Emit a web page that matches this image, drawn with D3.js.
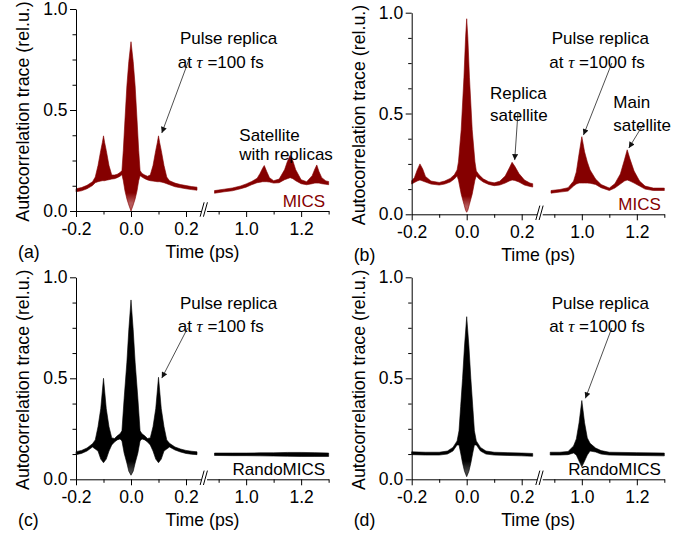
<!DOCTYPE html>
<html>
<head>
<meta charset="utf-8">
<script src="https://cdn.jsdelivr.net/npm/d3@7"></script>
<style>
  body { margin: 0; background: #fff; }
  svg text { font-family: Arial, "Liberation Sans", sans-serif; font-size: 17px; fill: #000; }
  svg .tick text { font-size: 17.5px; }
  .ytitle { font-size: 17.8px !important; }
  .xtitle { font-size: 17.7px !important; }
  .tau { font-family: "Liberation Serif", "DejaVu Serif", serif; font-style: italic; }
</style>
</head>
<body>
<div id="graph"></div>
<script>

// 
// Data: [time (ps), lower envelope, upper envelope]
// 

var yMajor      = [0, 0.5, 1.0];
var yMinor      = [0.125, 0.25, 0.375, 0.625, 0.75, 0.875];
var xMajorLeft  = [-0.2, 0.0, 0.2];
var xMinorLeft  = [-0.1, 0.1];
var xMajorRight = [1.0, 1.2];
var xMinorRight = [0.9, 1.1, 1.3];
var leftDomain  = [-0.2, 0.255];
var rightDomain = [0.856, 1.3];

var traceALeft = [
    [-0.20, 0.095, 0.110], [-0.18, 0.100, 0.116], [-0.16, 0.110, 0.127], [-0.14, 0.126, 0.145],
    [-0.13, 0.140, 0.168], [-0.12, 0.145, 0.225], [-0.11, 0.148, 0.300], [-0.104, 0.150, 0.340],
    [-0.10, 0.150, 0.372], [-0.096, 0.150, 0.340], [-0.09, 0.152, 0.300], [-0.08, 0.155, 0.225],
    [-0.07, 0.158, 0.178], [-0.06, 0.160, 0.178], [-0.05, 0.165, 0.182], [-0.04, 0.172, 0.190],
    [-0.033, 0.180, 0.200], [-0.028, 0.150, 0.300], [-0.022, 0.100, 0.450], [-0.015, 0.060, 0.620],
    [-0.008, 0.030, 0.740], [0.000, 0.000, 0.838], [0.008, 0.030, 0.740], [0.015, 0.060, 0.620],
    [0.022, 0.100, 0.450], [0.028, 0.150, 0.300], [0.033, 0.175, 0.200], [0.04, 0.168, 0.186],
    [0.05, 0.160, 0.178], [0.06, 0.154, 0.172], [0.07, 0.150, 0.178], [0.08, 0.148, 0.225],
    [0.09, 0.146, 0.300], [0.096, 0.145, 0.340], [0.10, 0.145, 0.372], [0.104, 0.145, 0.340],
    [0.11, 0.143, 0.300], [0.12, 0.140, 0.225], [0.13, 0.135, 0.168], [0.14, 0.130, 0.150],
    [0.16, 0.120, 0.138], [0.18, 0.115, 0.131], [0.20, 0.110, 0.126], [0.22, 0.106, 0.121],
    [0.24, 0.103, 0.118]
];

var traceARight = [
    [0.885, 0.088, 0.101], [0.92, 0.095, 0.108], [0.95, 0.100, 0.114], [0.98, 0.110, 0.124],
    [1.00, 0.118, 0.134], [1.02, 0.130, 0.146], [1.04, 0.140, 0.162], [1.05, 0.142, 0.185],
    [1.06, 0.145, 0.212], [1.066, 0.145, 0.225], [1.075, 0.145, 0.195], [1.085, 0.143, 0.165],
    [1.10, 0.138, 0.150], [1.12, 0.140, 0.158], [1.14, 0.155, 0.205], [1.15, 0.160, 0.245],
    [1.16, 0.165, 0.276], [1.17, 0.160, 0.248], [1.18, 0.150, 0.205], [1.20, 0.135, 0.155],
    [1.22, 0.130, 0.145], [1.24, 0.135, 0.175], [1.25, 0.138, 0.208], [1.257, 0.138, 0.228],
    [1.265, 0.138, 0.195], [1.275, 0.135, 0.165], [1.29, 0.132, 0.149], [1.30, 0.130, 0.146]
];

var traceBLeft = [
    [-0.20, 0.150, 0.166], [-0.19, 0.158, 0.182], [-0.18, 0.165, 0.220], [-0.17, 0.170, 0.250],
    [-0.16, 0.165, 0.225], [-0.15, 0.160, 0.188], [-0.13, 0.150, 0.165], [-0.10, 0.145, 0.158],
    [-0.08, 0.150, 0.165], [-0.06, 0.160, 0.178], [-0.045, 0.175, 0.196], [-0.035, 0.190, 0.220],
    [-0.03, 0.170, 0.260], [-0.02, 0.100, 0.420], [-0.01, 0.050, 0.680], [-0.004, 0.020, 0.880],
    [0.000, 0.010, 0.970], [0.004, 0.020, 0.880], [0.01, 0.050, 0.680], [0.02, 0.100, 0.420],
    [0.03, 0.170, 0.260], [0.035, 0.190, 0.215], [0.045, 0.175, 0.196], [0.06, 0.160, 0.176],
    [0.08, 0.148, 0.162], [0.10, 0.142, 0.156], [0.12, 0.145, 0.164], [0.14, 0.155, 0.190],
    [0.155, 0.165, 0.230], [0.165, 0.170, 0.258], [0.175, 0.168, 0.238], [0.19, 0.160, 0.202],
    [0.21, 0.145, 0.170], [0.23, 0.138, 0.155], [0.24, 0.135, 0.152]
];

var traceBRight = [
    [0.888, 0.105, 0.118], [0.92, 0.110, 0.123], [0.95, 0.115, 0.132], [0.97, 0.140, 0.165],
    [0.98, 0.150, 0.210], [0.99, 0.155, 0.300], [1.00, 0.155, 0.385], [1.01, 0.155, 0.310],
    [1.02, 0.155, 0.260], [1.03, 0.154, 0.220], [1.05, 0.148, 0.175], [1.07, 0.132, 0.148],
    [1.10, 0.118, 0.130], [1.12, 0.130, 0.152], [1.14, 0.150, 0.200], [1.155, 0.165, 0.270],
    [1.165, 0.170, 0.320], [1.175, 0.165, 0.275], [1.19, 0.155, 0.215], [1.21, 0.140, 0.165],
    [1.23, 0.125, 0.140], [1.26, 0.118, 0.130], [1.30, 0.118, 0.130]
];

var traceCLeft = [
    [-0.20, 0.122, 0.137], [-0.18, 0.128, 0.143], [-0.16, 0.140, 0.155], [-0.14, 0.160, 0.176],
    [-0.13, 0.150, 0.195], [-0.12, 0.140, 0.260], [-0.11, 0.100, 0.350], [-0.10, 0.082, 0.500],
    [-0.09, 0.100, 0.350], [-0.08, 0.140, 0.260], [-0.07, 0.170, 0.205], [-0.06, 0.185, 0.202],
    [-0.05, 0.195, 0.215], [-0.04, 0.200, 0.225], [-0.033, 0.190, 0.240], [-0.025, 0.130, 0.400],
    [-0.015, 0.080, 0.580], [-0.008, 0.040, 0.740], [0.000, 0.020, 0.888], [0.008, 0.040, 0.740],
    [0.015, 0.080, 0.580], [0.025, 0.130, 0.400], [0.033, 0.190, 0.240], [0.04, 0.200, 0.225],
    [0.05, 0.195, 0.215], [0.06, 0.185, 0.202], [0.07, 0.170, 0.205], [0.08, 0.140, 0.260],
    [0.09, 0.100, 0.350], [0.10, 0.082, 0.505], [0.11, 0.100, 0.350], [0.12, 0.140, 0.260],
    [0.13, 0.150, 0.195], [0.14, 0.160, 0.178], [0.16, 0.145, 0.160], [0.18, 0.135, 0.150],
    [0.20, 0.128, 0.143], [0.22, 0.124, 0.139], [0.24, 0.122, 0.136]
];

var traceCRight = [
    [0.885, 0.118, 0.130], [0.95, 0.117, 0.130], [1.00, 0.117, 0.130], [1.05, 0.116, 0.131],
    [1.10, 0.115, 0.131], [1.15, 0.114, 0.133], [1.20, 0.113, 0.133], [1.25, 0.113, 0.132],
    [1.30, 0.113, 0.130]
];

var traceDLeft = [
    [-0.20, 0.122, 0.136], [-0.15, 0.120, 0.134], [-0.10, 0.120, 0.134], [-0.07, 0.125, 0.140],
    [-0.05, 0.140, 0.158], [-0.035, 0.170, 0.190], [-0.028, 0.170, 0.240], [-0.022, 0.130, 0.360],
    [-0.015, 0.080, 0.500], [-0.008, 0.040, 0.660], [0.000, 0.013, 0.805], [0.008, 0.040, 0.660],
    [0.015, 0.080, 0.500], [0.022, 0.130, 0.360], [0.028, 0.170, 0.240], [0.035, 0.170, 0.190],
    [0.05, 0.140, 0.158], [0.07, 0.125, 0.140], [0.10, 0.120, 0.134], [0.15, 0.118, 0.132],
    [0.20, 0.116, 0.130], [0.24, 0.114, 0.128]
];

var traceDRight = [
    [0.885, 0.120, 0.134], [0.92, 0.120, 0.134], [0.95, 0.122, 0.138], [0.97, 0.130, 0.165],
    [0.98, 0.120, 0.200], [0.99, 0.090, 0.280], [1.00, 0.062, 0.390], [1.01, 0.090, 0.280],
    [1.02, 0.120, 0.205], [1.03, 0.140, 0.178], [1.05, 0.135, 0.155], [1.07, 0.125, 0.142],
    [1.10, 0.120, 0.134], [1.20, 0.118, 0.132], [1.30, 0.116, 0.130]
];


//
// Layout of the four panels
//
var pxPerPs = 275;
var gap     = 5.4;

var panels = [
    { tag: '(a)', x: 76,    top: 9,     bottom: 211,   color: '#850000', light: '#b65a5a', name: 'MICS',
      left: traceALeft, right: traceARight,
      notes: [ { lines: ['Pulse replica', ['at ', '\u03c4', ' =100 fs']], x: 104, y: 23, x2: 101.7 },
               { lines: ['Satellite', 'with replicas'], x: 163.3, y: 119.5, dy: 19.5 } ],
      arrows: [ { side: 'left', from: [0.213, 0.757], to: [0.112, 0.386] } ] },
    { tag: '(b)', x: 411.7, top: 12.7,  bottom: 214.3, color: '#850000', light: '#b65a5a', name: 'MICS',
      left: traceBLeft, right: traceBRight,
      notes: [ { lines: ['Pulse replica', ['at ', '\u03c4', ' =1000 fs']], x: 140, y: 19.3, x2: 137.6 },
               { lines: ['Replica', 'satellite'], x: 78.3, y: 74.3, dy: 21.5 },
               { lines: ['Main', 'satellite'], x: 201.6, y: 82.8, dy: 23.2 } ],
      arrows: [ { side: 'right', from: [1.109, 0.750], to: [1.006, 0.393] },
                { side: 'left',  from: [0.1865, 0.507], to: [0.1745, 0.269] },
                { side: 'right', from: [1.222, 0.443], to: [1.171, 0.329] } ] },
    { tag: '(c)', x: 76,    top: 277.3, bottom: 479.3, color: '#000000', light: '#444444', name: 'RandoMICS',
      left: traceCLeft, right: traceCRight,
      notes: [ { lines: ['Pulse replica', ['at ', '\u03c4', ' =100 fs']], x: 104, y: 19.4, x2: 101.7 } ],
      arrows: [ { side: 'left', from: [0.206, 0.749], to: [0.112, 0.501] } ] },
    { tag: '(d)', x: 411.7, top: 277.3, bottom: 479.3, color: '#000000', light: '#444444', name: 'RandoMICS',
      left: traceDLeft, right: traceDRight,
      notes: [ { lines: ['Pulse replica', ['at ', '\u03c4', ' =1000 fs']], x: 140, y: 19.4, x2: 137.6 } ],
      arrows: [ { side: 'right', from: [1.109, 0.749], to: [1.013, 0.401] } ] }
];


var svg = d3.select ('div#graph')
            .append ('svg')
            .attr ('width', 694)
            .attr ('height', 535);

var defs = svg.append ('defs');

defs.append ('marker')
    .attr ('id', 'arrowHead')
    .attr ('viewBox', '0 0 10 10')
    .attr ('refX', 10)
    .attr ('refY', 5)
    .attr ('markerWidth', 11)
    .attr ('markerHeight', 6)
    .attr ('markerUnits', 'userSpaceOnUse')
    .attr ('orient', 'auto')
    .append ('path')
    .attr ('d', 'M0,0 L10,5 L0,10 Z')
    .attr ('fill', '#111');

var fmt = function (d) { return d.toFixed (1); };

panels.forEach (function (p, pi)
{
    var g = svg.append ('g');

    var yScale = d3.scaleLinear ()
                   .domain ([0, 1])
                   .range ([p.bottom, p.top]);

    var xLeftEnd = p.x + (leftDomain[1] - leftDomain[0]) * pxPerPs;
    var xLeft = d3.scaleLinear ()
                  .domain (leftDomain)
                  .range ([p.x, xLeftEnd]);

    var xRight = d3.scaleLinear ()
                   .domain (rightDomain)
                   .range ([xLeftEnd + gap, xLeftEnd + gap + (rightDomain[1] - rightDomain[0]) * pxPerPs]);

    // fringes thin out near the very bottom of a peak: lighter shade there
    var grad = defs.append ('linearGradient')
                   .attr ('id', 'fringe' + pi)
                   .attr ('gradientUnits', 'userSpaceOnUse')
                   .attr ('x1', 0).attr ('x2', 0)
                   .attr ('y1', yScale (0)).attr ('y2', yScale (0.2));
    grad.append ('stop').attr ('offset', 0).attr ('stop-color', p.light);
    grad.append ('stop').attr ('offset', 0.2).attr ('stop-color', p.light);
    grad.append ('stop').attr ('offset', 0.45).attr ('stop-color', p.color);
    grad.append ('stop').attr ('offset', 1).attr ('stop-color', p.color);

    // traces: band between lower and upper fringe envelope
    [[p.left, xLeft], [p.right, xRight]].forEach (function (seg)
    {
        var xs = seg[1];
        var area = d3.area ()
                     .x  (function (d) { return xs (d[0]); })
                     .y0 (function (d) { return yScale (d[1]); })
                     .y1 (function (d) { return yScale (d[2]); });

        g.append ('path')
         .datum (seg[0])
         .attr ('d', area)
         .attr ('fill', 'url(#fringe' + pi + ')')
         .attr ('stroke', p.color)
         .attr ('stroke-width', 0.6)
         .attr ('stroke-linejoin', 'round');
    });

    // x axes, one per segment
    var axisY = p.bottom;
    [[xLeft, xMajorLeft, xMinorLeft], [xRight, xMajorRight, xMinorRight]].forEach (function (s)
    {
        g.append ('g')
         .attr ('transform', 'translate(0,' + axisY + ')')
         .call (d3.axisBottom (s[0]).tickValues (s[1]).tickSize (6).tickSizeOuter (0)
                  .tickPadding (5.3).tickFormat (fmt));

        g.append ('g')
         .attr ('transform', 'translate(0,' + axisY + ')')
         .call (d3.axisBottom (s[0]).tickValues (s[2]).tickSize (3.5).tickFormat (''))
         .select ('.domain').remove ();
    });

    // axis break marks
    [-1, 2.3].forEach (function (off)
    {
        g.append ('line')
         .attr ('x1', xLeftEnd + off)
         .attr ('y1', axisY + 5.7)
         .attr ('x2', xLeftEnd + off + 4)
         .attr ('y2', axisY - 8.7)
         .attr ('stroke', '#000')
         .attr ('stroke-width', 1);
    });

    // y axis
    g.append ('g')
     .attr ('transform', 'translate(' + p.x + ',0)')
     .call (d3.axisLeft (yScale).tickValues (yMajor).tickSize (6).tickSizeOuter (0)
              .tickPadding (2.5).tickFormat (fmt));

    g.append ('g')
     .attr ('transform', 'translate(' + p.x + ',0)')
     .call (d3.axisLeft (yScale).tickValues (yMinor).tickSize (3.5).tickFormat (''))
     .select ('.domain').remove ();

    g.selectAll ('.tick line, .domain').attr ('stroke-width', 1);

    // axis titles
    g.append ('text')
     .attr ('class', 'ytitle')
     .attr ('transform', 'rotate(-90)')
     .attr ('x', -(p.top + p.bottom) / 2 - 1.5)
     .attr ('y', p.x - 47)
     .style ('text-anchor', 'middle')
     .text ('Autocorrelation trace (rel.u.)');

    g.append ('text')
     .attr ('class', 'xtitle')
     .attr ('x', p.x + 126.5)
     .attr ('y', axisY + 47)
     .style ('text-anchor', 'middle')
     .text ('Time (ps)');

    g.append ('text')
     .attr ('class', 'xtitle')
     .attr ('x', p.x - 58)
     .attr ('y', axisY + 47)
     .text (p.tag);

    g.append ('text')
     .attr ('x', xRight (1.3) - 3.5)
     .attr ('y', axisY - 4)
     .style ('text-anchor', 'end')
     .style ('fill', p.color)
     .text (p.name);

    // annotations
    p.notes.forEach (function (n)
    {
        n.lines.forEach (function (line, i)
        {
            var dy = n.dy || 23.3;
            var t = g.append ('text')
                     .attr ('x', p.x + (i > 0 && n.x2 ? n.x2 : n.x))
                     .attr ('y', p.top + n.y + 12.3 + i * dy);
            if (typeof line === 'string')
                t.text (line);
            else
            {
                t.append ('tspan').text (line[0]);
                t.append ('tspan').attr ('class', 'tau').text (line[1]);
                t.append ('tspan').text (line[2]);
            }
        });
    });

    p.arrows.forEach (function (a)
    {
        var xs = a.side === 'left' ? xLeft : xRight;
        g.append ('line')
         .attr ('x1', xs (a.from[0]))
         .attr ('y1', yScale (a.from[1]))
         .attr ('x2', xs (a.to[0]))
         .attr ('y2', yScale (a.to[1]))
         .attr ('stroke', '#222')
         .attr ('stroke-width', 0.8)
         .attr ('marker-end', 'url(#arrowHead)');
    });
});

</script>
</body>
</html>
